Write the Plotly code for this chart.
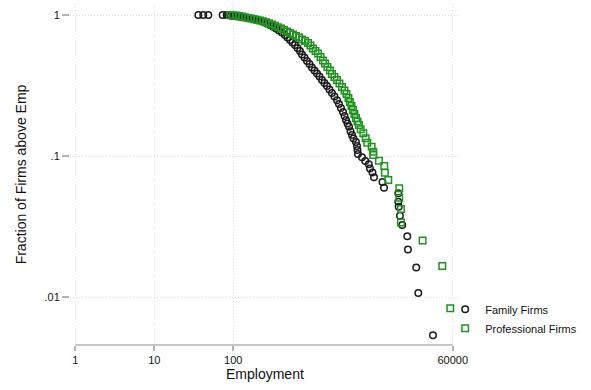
import plotly.graph_objects as go

# Employment (x) and share of firms at or above that size (y), family-run firms
family_emp = [36.1, 41.7, 48.3, 73.4, 82.5, 85.7, 93.5, 102, 111.4, 121.6, 132.7, 144.9,
              158.1, 172.6, 188.4, 205.6, 224.4, 244.9, 267.3, 291.7, 318.4, 347.5, 378.4,
              413, 450.8, 485.3, 522.4, 561, 603.9, 650.1, 698.2, 741.3, 796.2, 857, 922.6,
              990.8, 1067, 1146, 1233, 1327, 1426, 1535, 1652, 1775, 1909, 2056, 2178, 2307,
              2449, 2559, 2673, 2792, 2917, 3048, 3184, 3327, 3573, 3681, 3733, 3785,
              4256, 4688, 5188, 5370, 5781, 6039, 7737, 8088, 12270, 12270, 12417, 12882,
              13772, 15950, 16256, 20700, 21980, 33730]
family_frac = [1, 1, 1, 1, 1, 0.995, 0.987, 0.984, 0.977, 0.971, 0.965, 0.957,
               0.949, 0.940, 0.931, 0.922, 0.907, 0.889, 0.870, 0.849, 0.826, 0.802, 0.776,
               0.751, 0.721, 0.692, 0.665, 0.638, 0.613, 0.583, 0.556, 0.525, 0.500, 0.472, 0.449,
               0.424, 0.404, 0.385, 0.366, 0.346, 0.329, 0.314, 0.296, 0.280, 0.264, 0.249, 0.234, 0.219,
               0.205, 0.192, 0.180, 0.170, 0.161, 0.150, 0.141, 0.133, 0.1257, 0.1177, 0.1103, 0.1033,
               0.0979, 0.0921, 0.0873, 0.0815, 0.0764, 0.0706, 0.0654, 0.0596, 0.0544, 0.0474, 0.0437, 0.0377,
               0.0324, 0.0270, 0.0217, 0.0162, 0.01067, 0.00535]

# Same for professionally managed firms
prof_emp = [90.8, 99.1, 108.2, 118, 128.8, 140.6, 153.5, 167.5, 182.8, 199.5, 217.8, 237.7,
            259.5, 283.2, 309, 337.3, 368.1, 401.8, 438.5, 478.6, 522.4, 570.2, 622.3, 679.2,
            741.3, 809.1, 883, 948.4, 1021, 1099, 1180, 1271, 1365, 1449, 1556, 1675, 1775,
            1909, 2056, 2208, 2377, 2559, 2711, 2871, 2999, 3134, 3273, 3420, 3573, 3733,
            3899, 4102, 4426, 4742, 4966, 5649, 5916, 5916, 6982, 8147, 8318, 9162,
            12620, 12620, 13270, 13270, 24950, 44250, 55850]
prof_frac = [1, 0.995, 0.990, 0.984, 0.974, 0.963, 0.952, 0.943, 0.934, 0.925, 0.914, 0.902,
             0.889, 0.873, 0.856, 0.838, 0.819, 0.802, 0.783, 0.764, 0.745, 0.727, 0.710, 0.692,
             0.670, 0.654, 0.633, 0.608, 0.578, 0.556, 0.533, 0.504, 0.476, 0.453, 0.428, 0.404, 0.382,
             0.363, 0.346, 0.327, 0.309, 0.291, 0.275, 0.258, 0.242, 0.226, 0.212, 0.199, 0.186, 0.176,
             0.166, 0.155, 0.145, 0.1335, 0.1243, 0.1164, 0.1072, 0.1016, 0.0926, 0.0849, 0.0761, 0.0676,
             0.0590, 0.0506, 0.0421, 0.0338, 0.0252, 0.0166, 0.00832]

x_ticks = [1, 10, 100, 60000]
x_tick_text = ["1", "10", "100", "60000"]
y_ticks = [0.01, 0.1, 1]
y_tick_text = [".01", ".1", "1"]

FONT = "Liberation Sans, Arial, Helvetica, sans-serif"
BLACK = "#1a1a1a"
GREEN = "#1e941e"
GRID = "#dcdcdc"
AXIS = "#b3b3b3"

fig = go.Figure()
fig.add_trace(go.Scatter(
    x=family_emp, y=family_frac, mode="markers", name="Family Firms",
    marker=dict(symbol="circle-open", size=6.5, color=BLACK, line=dict(width=1.5, color=BLACK)),
))
fig.add_trace(go.Scatter(
    x=prof_emp, y=prof_frac, mode="markers", name="Professional Firms",
    marker=dict(symbol="square-open", size=6.5, color=GREEN, line=dict(width=1.5, color=GREEN)),
))

# bottom axis line spans exactly the labelled range
fig.add_shape(type="line", xref="x", yref="paper", x0=x_ticks[0], x1=x_ticks[-1], y0=0, y1=0,
              line=dict(color=AXIS, width=1.5))

# x-axis title placed just under the tick labels
fig.add_annotation(text="Employment", xref="paper", yref="paper", x=0.5, y=0,
                   yshift=-29, xanchor="center", yanchor="middle", showarrow=False,
                   font=dict(size=14, family=FONT, color="#111111"))

fig.update_layout(
    width=591, height=390,
    margin=dict(l=70, r=131, t=4, b=45),
    paper_bgcolor="white", plot_bgcolor="white",
    font=dict(family=FONT, color="#111111", size=11),
    showlegend=True,
    legend=dict(x=0.962, y=0.077, xanchor="left", yanchor="middle",
                font=dict(size=11, family=FONT), bgcolor="rgba(0,0,0,0)",
                itemsizing="trace", tracegroupgap=0),
)
fig.update_xaxes(
    type="log", range=[-0.067, 4.870],
    tickvals=x_ticks, ticktext=x_tick_text,
    ticks="outside", ticklen=5, tickcolor=AXIS, tickwidth=1.5,
    showline=False, zeroline=False,
    showgrid=True, gridcolor=GRID, griddash="1px,2px", gridwidth=1,
    tickfont=dict(size=11, family=FONT),
)
fig.update_yaxes(
    type="log", range=[-2.340, 0.078],
    tickvals=y_ticks, ticktext=y_tick_text,
    ticks="outside", ticklen=7, tickcolor=AXIS, tickwidth=1.5,
    showline=False, zeroline=False,
    showgrid=True, gridcolor=GRID, griddash="1px,2px", gridwidth=1,
    tickfont=dict(size=11, family=FONT),
    title=dict(text="Fraction of Firms above Emp", font=dict(size=14, family=FONT), standoff=14),
)

fig.write_html("out.html")
